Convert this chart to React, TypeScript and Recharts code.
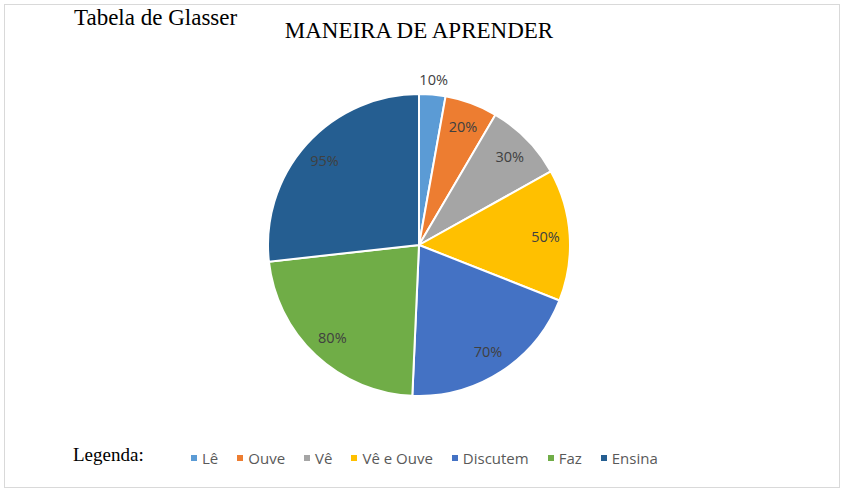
import React from 'react';
import { PieChart, Pie, Cell } from 'recharts';

const categories = ['Lê', 'Ouve', 'Vê', 'Vê e Ouve', 'Discutem', 'Faz', 'Ensina'];
const values = [10, 20, 30, 50, 70, 80, 95];
const colors = ['#5B9BD5', '#ED7D31', '#A5A5A5', '#FFC000', '#4472C4', '#70AD47', '#255E91'];

const data = categories.map((name, i) => ({ name, value: values[i] }));

const RAD = Math.PI / 180;

const renderLabel = (props: any) => {
  const { cx, cy, midAngle, outerRadius, value, percent } = props;
  const outside = percent < 0.04;
  const r = outside ? outerRadius + 15 : outerRadius * 0.84;
  const x = cx + r * Math.cos(-midAngle * RAD);
  const y = cy + r * Math.sin(-midAngle * RAD);
  return (
    <text
      x={x}
      y={y}
      fill="#404040"
      textAnchor="middle"
      dominantBaseline="central"
      style={{ fontFamily: '"Open Sans", sans-serif', fontSize: 14.5 }}
    >
      {value}%
    </text>
  );
};

const serif = '"Liberation Serif", "Times New Roman", serif';

export default function App() {
  return (
    <div style={{ position: 'absolute', left: 0, top: 0, width: 845, height: 493, background: '#fff' }}>
      <div style={{ position: 'absolute', left: 4, top: 4, width: 834, height: 482, border: '1px solid #d9d9d9' }} />
      <div style={{ position: 'absolute', left: 74, top: 5, fontFamily: serif, fontSize: 23, color: '#000', whiteSpace: 'nowrap', lineHeight: '26px' }}>
        Tabela de Glasser
      </div>
      <div style={{ position: 'absolute', left: 0, width: 838, top: 18, textAlign: 'center', fontFamily: serif, fontSize: 23, color: '#000', lineHeight: '26px' }}>
        MANEIRA DE APRENDER
      </div>
      <div style={{ position: 'absolute', left: 73, top: 443, fontFamily: serif, fontSize: 19, color: '#000', lineHeight: '24px' }}>
        Legenda:
      </div>
      <div style={{ position: 'absolute', left: 0, top: 0 }}>
        <PieChart width={845} height={493} margin={{ top: 0, right: 0, bottom: 0, left: 0 }}>
          <Pie
            data={data}
            dataKey="value"
            nameKey="name"
            cx={419}
            cy={245}
            outerRadius={151}
            startAngle={90}
            endAngle={-270}
            stroke="#fff"
            strokeWidth={2}
            label={renderLabel}
            labelLine={false}
            isAnimationActive={false}
          >
            {data.map((d, i) => (
              <Cell key={d.name} fill={colors[i]} />
            ))}
          </Pie>
        </PieChart>
      </div>
      <div style={{ position: 'absolute', left: 191, top: 447, display: 'flex', alignItems: 'center', fontFamily: '"Open Sans", sans-serif', fontSize: 15, color: '#595959', lineHeight: '22px' }}>
        {categories.map((c, i) => (
          <div key={c} style={{ display: 'flex', alignItems: 'center', marginRight: 19 }}>
            <span style={{ width: 6, height: 6, background: colors[i], display: 'inline-block', marginRight: 5 }} />
            <span style={{ whiteSpace: 'nowrap' }}>{c}</span>
          </div>
        ))}
      </div>
    </div>
  );
}
